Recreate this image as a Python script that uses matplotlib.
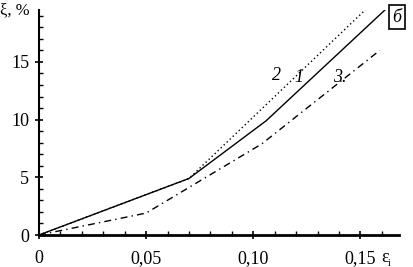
import numpy as np
import matplotlib
matplotlib.use('Agg')
from matplotlib import pyplot as plt
from matplotlib.ticker import MultipleLocator

# curve 1 (solid)
x1 = [0, 0.070, 0.106, 0.162]
y1 = [0, 4.9, 9.9, 19.6]
# curve 2 (dotted)
x2 = [0, 0.070, 0.155]
y2 = [0, 4.9, 20.0]
# curve 3 (dash-dot)
x3 = [0, 0.050, 0.104, 0.159]
y3 = [0, 1.9, 7.9, 16.0]

xticks = [0, 0.05, 0.10, 0.15]
xticklabels = ['0', '0,05', '0,10', '0,15']
yticks = [0, 5, 10, 15]

plt.rcParams['font.family'] = ['Liberation Serif', 'DejaVu Serif']

W, H = 414, 267
fig = plt.figure(figsize=(W/100, H/100), dpi=100, facecolor='w')
ax = fig.add_axes([39/W, 32/H, 360/W, 225/H])

ax.plot(x1, y1, color='k', lw=1.0)
ax.plot(x2, y2, color='k', lw=1.0, ls=(0, (1, 2)))
ax.plot(x3, y3, color='k', lw=1.0, ls=(0, (5, 3, 1, 3)))

ax.set_xlim(0, 0.168)
ax.set_ylim(0, 19.5)
ax.spines['top'].set_visible(False)
ax.spines['right'].set_visible(False)
ax.spines['left'].set_linewidth(1.5)
ax.spines['bottom'].set_linewidth(2)

ax.set_xticks(xticks)
ax.set_xticklabels(xticklabels)
ax.set_yticks(yticks)
ax.xaxis.set_minor_locator(MultipleLocator(0.01))
ax.yaxis.set_minor_locator(MultipleLocator(1))
ax.tick_params(which='major', direction='inout', length=6, width=1.2, labelsize=13)
ax.tick_params(axis='x', which='major', pad=8)
ax.tick_params(axis='y', which='major', pad=4)
ax.tick_params(which='minor', direction='in', length=3, width=1)

def ftext(px, py, s, **kw):
    fig.text(px/W, 1 - py/H, s, **kw)

ftext(0, 10, 'ξ, %', fontsize=12, ha='left', va='center')
ftext(381, 258, 'ε', fontsize=13, ha='left', va='center')
ftext(388, 263, 'i', fontsize=7, ha='left', va='center')

ftext(276, 76, '2', fontsize=13, style='italic', ha='center', va='center')
ftext(299, 77, '1', fontsize=13, style='italic', ha='center', va='center')
ftext(340, 77, '3.', fontsize=13, style='italic', ha='center', va='center')
ftext(397, 17, 'б', fontsize=13, style='italic', ha='center', va='center',
      bbox=dict(boxstyle='square,pad=0.2', fc='w', ec='k', lw=1.2))

plt.savefig('out.png', dpi=100)
